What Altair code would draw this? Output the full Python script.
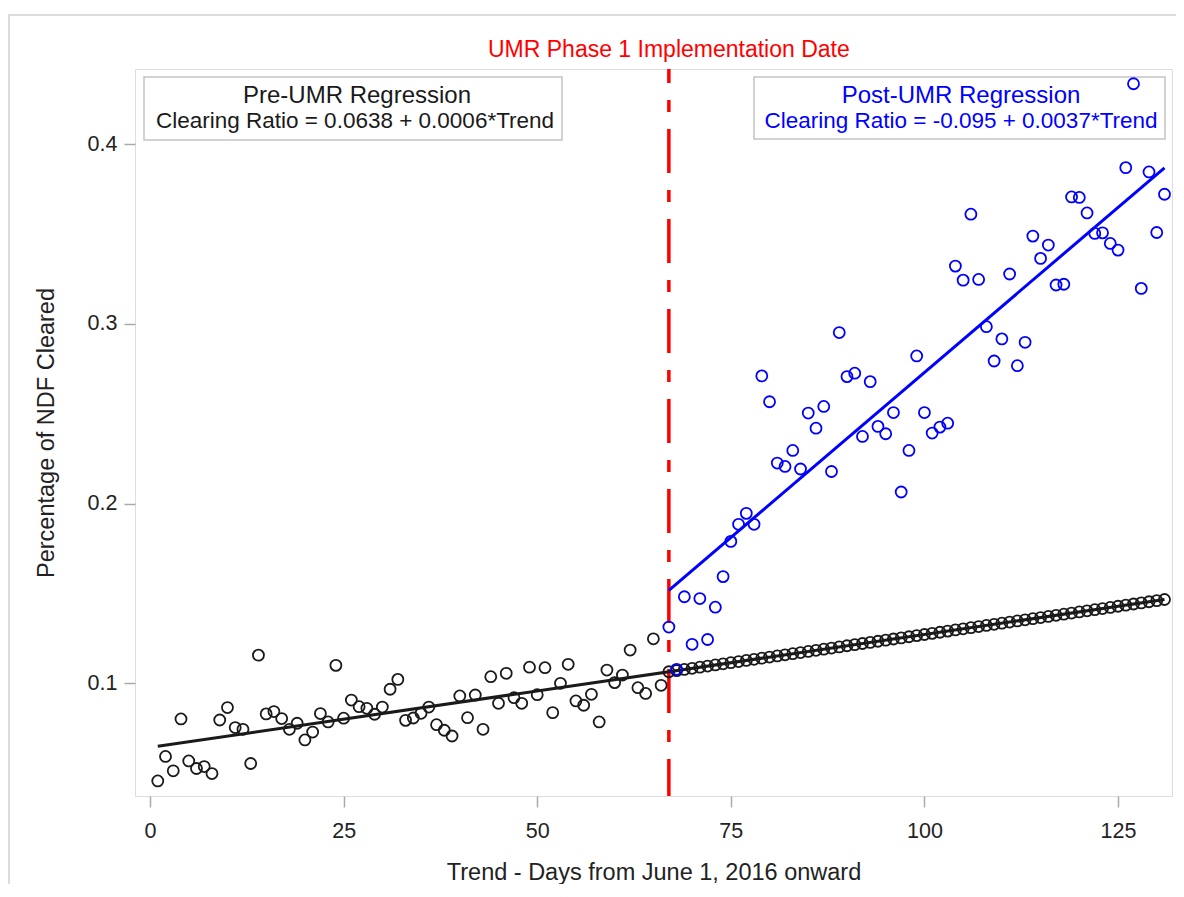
import altair as alt
import pandas as pd

# ---------------- data ----------------
pre_days = list(range(1, 67))
pre_ratio = [
    0.0457, 0.0593, 0.0513, 0.0802, 0.0568, 0.0526, 0.0537, 0.0498, 0.0796, 0.0865,
    0.0754, 0.0744, 0.0554, 0.1157, 0.0830, 0.0843, 0.0804, 0.0744, 0.0778, 0.0685,
    0.0729, 0.0832, 0.0785, 0.1100, 0.0806, 0.0907, 0.0870, 0.0861, 0.0828, 0.0868,
    0.0967, 0.1022, 0.0794, 0.0807, 0.0833, 0.0868, 0.0770, 0.0739, 0.0707, 0.0930,
    0.0809, 0.0935, 0.0744, 0.1037, 0.0889, 0.1056, 0.0920, 0.0889, 0.1090, 0.0937,
    0.1087, 0.0837, 0.1000, 0.1106, 0.0902, 0.0878, 0.0939, 0.0785, 0.1074, 0.1004,
    0.1046, 0.1185, 0.0976, 0.0944, 0.1248, 0.0989,
]
post_days = list(range(67, 132))
post_ratio = [
    0.1313, 0.1078, 0.1482, 0.1217, 0.1472, 0.1244, 0.1424, 0.1594, 0.1790, 0.1885,
    0.1946, 0.1885, 0.2711, 0.2567, 0.2226, 0.2207, 0.2296, 0.2193, 0.2504, 0.2420,
    0.2541, 0.2179, 0.2952, 0.2707, 0.2726, 0.2374, 0.2679, 0.2430, 0.2389, 0.2507,
    0.2065, 0.2296, 0.2822, 0.2507, 0.2393, 0.2426, 0.2448, 0.3322, 0.3244, 0.3611,
    0.3248, 0.2985, 0.2794, 0.2917, 0.3278, 0.2768, 0.2898, 0.3489, 0.3365, 0.3439,
    0.3217, 0.3221, 0.3707, 0.3704, 0.3618, 0.3504, 0.3507, 0.3448, 0.3411, 0.3870,
    0.4337, 0.3198, 0.3846, 0.3509, 0.3722,
]
impl_day = [67]
x_ticks = [0, 25, 50, 75, 100, 125]
y_ticks = [0.1, 0.2, 0.3, 0.4]

title_text = "UMR Phase 1 Implementation Date"
x_title = "Trend - Days from June 1, 2016 onward"
y_title = "Percentage of NDF Cleared"
pre_box_title = "Pre-UMR Regression"
pre_box_eq = "Clearing Ratio = 0.0638 + 0.0006*Trend"
post_box_title = "Post-UMR Regression"
post_box_eq = "Clearing Ratio = -0.095 + 0.0037*Trend"

df = pd.DataFrame({
    "day": pre_days + post_days,
    "ratio": pre_ratio + post_ratio,
    "group": ["pre"] * len(pre_days) + ["post"] * len(post_days),
})
impl_df = pd.DataFrame({"day": impl_day})
one = pd.DataFrame({"k": [0]})

FONT = "Liberation Sans"
BLUE = "#0000ff"
BLACK = "#1a1a1a"
FRAME = "#a7adad"

W, H = 1037, 727

xscale = alt.Scale(domain=[-1.94, 131.97], nice=False, zero=False)
yscale = alt.Scale(domain=[0.0373, 0.4419], nice=False, zero=False)

x_axis = alt.Axis(
    values=x_ticks, title=x_title, grid=False, domain=False,
    tickSize=11, tickWidth=1.5, tickColor=FRAME,
    labelFont=FONT, labelFontSize=21.5, labelColor="#222", labelPadding=13,
    titleFont=FONT, titleFontSize=23.5, titleFontWeight="normal", titleColor="#222",
    titleY=83, titleBaseline="alphabetic",
)
y_axis = alt.Axis(
    values=y_ticks, format=".1f", title=y_title, grid=False, domain=False,
    tickSize=11, tickWidth=1.5, tickColor=FRAME,
    labelFont=FONT, labelFontSize=21.5, labelColor="#222", labelPadding=7,
    titleFont=FONT, titleFontSize=23.5, titleFontWeight="normal", titleColor="#222",
    titleX=-82, titleY=H / 2, titleBaseline="alphabetic", titleAngle=-90,
)

X = alt.X("day:Q", scale=xscale, axis=x_axis)
Y = alt.Y("ratio:Q", scale=yscale, axis=y_axis)

# outer graph border
outer = alt.Chart(one).mark_rect(fill=None, stroke="#dcdcdc", strokeWidth=2).encode(
    x=alt.value(-126), x2=alt.value(1100), y=alt.value(-54), y2=alt.value(860)
)

# annotation boxes
pre_box = alt.Chart(one).mark_rect(fill="white", stroke="#c4c4c4", strokeWidth=1.5).encode(
    x=alt.value(9), x2=alt.value(427), y=alt.value(8), y2=alt.value(71)
)
post_box = alt.Chart(one).mark_rect(fill="white", stroke="#c4c4c4", strokeWidth=1.5).encode(
    x=alt.value(619), x2=alt.value(1030), y=alt.value(8), y2=alt.value(70)
)

def label(txt, x, y, size, color):
    return alt.Chart(one).mark_text(
        font=FONT, fontSize=size, color=color, align="center", baseline="alphabetic"
    ).encode(x=alt.value(x), y=alt.value(y), text=alt.value(txt))

pre_t1 = label(pre_box_title, 222, 34, 24, BLACK)
pre_t2 = label(pre_box_eq, 220, 59, 22.5, BLACK)
post_t1 = label(post_box_title, 826, 34, 24, BLUE)
post_t2 = label(post_box_eq, 826, 59, 22.5, BLUE)

# implementation date line + title
impl_rule = alt.Chart(impl_df).mark_rule(
    color="#ff0000", strokeWidth=3.5, strokeDash=[44, 17, 12, 17], strokeDashOffset=30
).encode(x=alt.X("day:Q", scale=xscale, axis=x_axis), y=alt.value(0), y2=alt.value(H))

impl_title = alt.Chart(impl_df).mark_text(
    font=FONT, fontSize=23, color="#ff0000", align="center", baseline="alphabetic"
).encode(x=alt.X("day:Q", scale=xscale, axis=x_axis), y=alt.value(-12), text=alt.value(title_text))

# regression lines
pre_line = alt.Chart(df).transform_filter("datum.group == 'pre'").transform_regression(
    "day", "ratio", extent=[1, 131]
).mark_line(color=BLACK, strokeWidth=3).encode(x=X, y=Y)

post_line = alt.Chart(df).transform_filter("datum.group == 'post'").transform_regression(
    "day", "ratio", extent=[67, 131]
).mark_line(color=BLUE, strokeWidth=3).encode(x=X, y=Y)

# projected pre-UMR trend over the post period (least squares computed in Vega-Lite)
proj = alt.Chart(df).transform_calculate(
    w="datum.group == 'pre' ? 1 : 0",
).transform_calculate(
    wx="datum.w * datum.day",
    wy="datum.w * datum.ratio",
    wxx="datum.w * datum.day * datum.day",
    wxy="datum.w * datum.day * datum.ratio",
).transform_joinaggregate(
    n="sum(w)", sx="sum(wx)", sy="sum(wy)", sxx="sum(wxx)", sxy="sum(wxy)"
).transform_filter("datum.group == 'post'").transform_calculate(
    b1="(datum.n*datum.sxy - datum.sx*datum.sy)/(datum.n*datum.sxx - datum.sx*datum.sx)"
).transform_calculate(
    b0="(datum.sy - datum.b1*datum.sx)/datum.n"
).transform_calculate(
    fit="datum.b0 + datum.b1*datum.day"
).mark_point(shape="circle", filled=False, color=BLACK, size=121, strokeWidth=1.8, opacity=1).encode(
    x=X, y=alt.Y("fit:Q", scale=yscale, axis=y_axis)
)

pre_pts = alt.Chart(df).transform_filter("datum.group == 'pre'").mark_point(
    shape="circle", filled=False, color=BLACK, size=121, strokeWidth=1.8, opacity=1
).encode(x=X, y=Y)

post_pts = alt.Chart(df).transform_filter("datum.group == 'post'").mark_point(
    shape="circle", filled=False, color=BLUE, size=121, strokeWidth=1.8, opacity=1
).encode(x=X, y=Y)

chart = alt.layer(
    outer, pre_box, post_box, impl_rule, pre_line, proj, pre_pts, post_line, post_pts,
    pre_t1, pre_t2, post_t1, post_t2, impl_title,
).properties(
    width=W, height=H,
    autosize=alt.AutoSizeParams(type="none"),
    padding={"left": 127, "top": 61, "right": 4, "bottom": 88},
).configure_view(stroke=FRAME, strokeWidth=2).configure(background="white")

chart.save("out.html", embed_options={"renderer": "svg", "actions": False})
